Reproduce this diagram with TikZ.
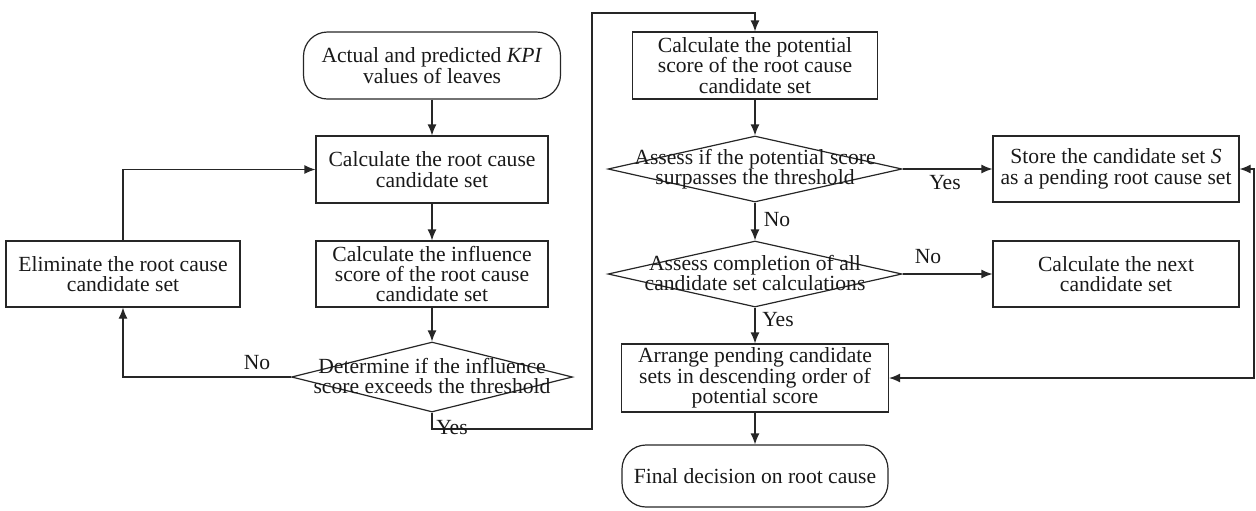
\documentclass[tikz,border=0pt]{standalone}
\usepackage{fontspec}
\setmainfont{Liberation Serif}
\usetikzlibrary{shapes.geometric,arrows.meta}
\tikzset{
  txt/.style={font=\fontsize{10.8}{10.2}\selectfont, text=black!90},
  box/.style={txt, draw=black!85, line width=0.6pt, rectangle, align=center, inner sep=0pt},
  term/.style={box, rounded corners=12pt},
  dia/.style={draw=black!85, line width=0.6pt, diamond, inner sep=0pt, minimum width=147pt, minimum height=33pt},
  dtext/.style={txt, align=center, inner sep=0pt},
  lab/.style={txt, inner sep=0pt},
  conn/.style={draw=black!85, line width=0.6pt, -{Latex[length=5.5pt,width=4.5pt]}},
}
\begin{document}
\begin{tikzpicture}[x=0.5pt,y=-0.5pt]
\useasboundingbox (0,0) rectangle (1256,510);
% left column
\node[term, minimum width=128.5pt, minimum height=33.5pt] (start) at (432,65.5) {Actual and predicted \textit{KPI}\\values of leaves};
\node[box, minimum width=116pt, minimum height=33.5pt] (calc) at (432,169.5) {Calculate the root cause\\candidate set};
\node[box, minimum width=116pt, minimum height=33pt] (infl) at (432,274) {Calculate the influence\\score of the root cause\\candidate set};
\node[dia, minimum width=140.5pt, minimum height=35pt] (d1) at (432,377) {};
\node[dtext] (d1t) at (432,376) {Determine if the influence\\score exceeds the threshold};
\node[box, minimum width=117pt, minimum height=33pt] (elim) at (123,274) {Eliminate the root cause\\candidate set};
% right column
\node[box, minimum width=122.5pt, minimum height=33.5pt] (pot) at (755,65.5) {Calculate the potential\\score of the root cause\\candidate set};
\node[dia] (d2) at (755,169) {};
\node[dtext] (d2t) at (755,169) {Assess if the potential score\\surpasses the threshold};
\node[box, minimum width=123pt, minimum height=33pt] (store) at (1116,169) {Store the candidate set \textit{S}\\as a pending root cause set};
\node[dia] (d3) at (755,274) {};
\node[dtext] (d3t) at (755,273) {Assess completion of all\\candidate set calculations};
\node[box, minimum width=123pt, minimum height=33pt] (next) at (1116,274) {Calculate the next\\candidate set};
\node[box, minimum width=133.5pt, minimum height=34pt] (arr) at (755,378) {Arrange pending candidate\\sets in descending order of\\potential score};
\node[term, minimum width=133pt, minimum height=31pt] (final) at (755,476) {Final decision on root cause};
% coordinates
\coordinate (ya) at (592,429);
\coordinate (yb) at (592,13);
\coordinate (r1) at (1254,169);
\coordinate (r2) at (1254,378);
% connectors
\draw[conn] (start) -- (calc);
\draw[conn] (calc) -- (infl);
\draw[conn] (infl) -- (d1.north);
\draw[conn] (d1.west) -| (elim.south);
\draw[conn] (elim.north) |- (calc.west);
\draw[conn] (d1.south) |- (ya) -- (yb) -| (pot.north);
\draw[conn] (pot) -- (d2.north);
\draw[conn] (d2.east) -- (store.west);
\draw[conn] (d2.south) -- (d3.north);
\draw[conn] (d3.east) -- (next.west);
\draw[conn] (d3.south) -- (arr.north);
\draw[conn] (arr) -- (final);
\draw[conn, {Latex[length=5.5pt,width=4.5pt]}-{Latex[length=5.5pt,width=4.5pt]}] (store.east) -- (r1) -- (r2) -- (arr.east);
% labels
\node[lab] (lno1) at (257,363) {No};
\node[lab] (lyes1) at (452,428) {Yes};
\node[lab] (lyes2) at (945,183) {Yes};
\node[lab] (lno2) at (777,220) {No};
\node[lab] (lno3) at (928,257) {No};
\node[lab] (lyes3) at (778,320) {Yes};
\end{tikzpicture}
\end{document}
